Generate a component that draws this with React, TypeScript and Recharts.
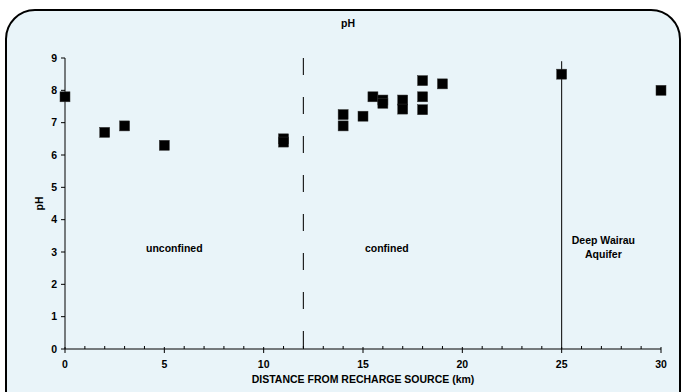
import React from 'react';
import { ScatterChart, Scatter, XAxis, YAxis, ReferenceLine, ReferenceDot, Label } from 'recharts';

const distances = [0, 2, 3, 5, 11, 11, 14, 14, 15, 15.5, 16, 16, 17, 17, 18, 18, 18, 19, 25, 30];
const phValues = [7.8, 6.7, 6.9, 6.3, 6.5, 6.4, 7.25, 6.9, 7.2, 7.8, 7.7, 7.6, 7.7, 7.42, 8.3, 7.8, 7.4, 8.2, 8.5, 8.0];
const xTicks = Array.from({ length: 31 }, (_, i) => i);
const yTicks = [0, 1, 2, 3, 4, 5, 6, 7, 8, 9];
const zoneLabels = [
  { x: 5.5, y: 3.1, lines: ['unconfined'] },
  { x: 16.2, y: 3.1, lines: ['confined'] },
  { x: 27.1, y: 3.15, lines: ['Deep Wairau', 'Aquifer'] },
];

const data = distances.map((d, i) => ({ x: d, y: phValues[i] }));

const FONT = '"Liberation Sans", Arial, sans-serif';
const FS = 10.5;

const Square = (props: any) => {
  const { cx, cy } = props;
  if (cx == null || cy == null) return null;
  return <rect x={cx - 5} y={cy - 5} width={10} height={10} fill="#000" stroke="#333" strokeWidth={0.5} />;
};

const XTick = (props: any) => {
  const { x, y, payload } = props;
  const v = payload.value;
  const major = v % 5 === 0;
  return (
    <g>
      {major ? (
        <line x1={x} x2={x} y1={y - 2} y2={y + 4} stroke="#000" strokeWidth={1} />
      ) : (
        <line x1={x} x2={x} y1={y - 3} y2={y} stroke="#000" strokeWidth={1} />
      )}
      {major && (
        <text x={x} y={y + 19} textAnchor="middle" fontFamily={FONT} fontWeight="bold" fontSize={FS} fill="#000">
          {v}
        </text>
      )}
    </g>
  );
};

const ZoneLabel = (lines: string[]) => (props: any) => {
  const { viewBox } = props;
  const cx = viewBox.x + (viewBox.width || 0) / 2;
  const cy = viewBox.y + (viewBox.height || 0) / 2;
  return (
    <text x={cx} y={cy} textAnchor="middle" fontFamily={FONT} fontWeight="bold" fontSize={FS} fill="#000">
      {lines.map((l, i) => (
        <tspan key={i} x={cx} dy={i === 0 ? 3.5 - (lines.length - 1) * 6.5 : 13.5}>
          {l}
        </tspan>
      ))}
    </text>
  );
};

export default function App() {
  return (
    <div style={{ position: 'absolute', left: 0, top: 0, width: 682, height: 392, overflow: 'hidden', background: '#fff' }}>
      <div
        style={{
          position: 'absolute',
          left: 5,
          top: 9,
          width: 672,
          height: 420,
          border: '2px solid #000',
          borderRadius: 30,
          background: '#E9F4F9',
        }}
      />
      <div
        style={{
          position: 'absolute',
          left: 298,
          top: 17,
          width: 100,
          textAlign: 'center',
          fontFamily: FONT,
          fontWeight: 'bold',
          fontSize: FS,
        }}
      >
        pH
      </div>
      <div style={{ position: 'absolute', left: 0, top: 0 }}>
        <ScatterChart width={682} height={392} margin={{ top: 58, right: 21, bottom: 0, left: 0 }}>
          <XAxis
            type="number"
            dataKey="x"
            domain={[0, 30]}
            ticks={xTicks}
            interval={0}
            tickSize={0}
            tickMargin={0}
            tickLine={false}
            tick={<XTick />}
            height={43}
            stroke="#000"
            axisLine={{ stroke: '#000', strokeWidth: 1 }}
          >
            <Label
              value="DISTANCE FROM RECHARGE SOURCE (km)"
              position="insideBottom"
              offset={9}
              style={{ fontFamily: FONT, fontWeight: 'bold', fontSize: FS, fill: '#000' }}
            />
          </XAxis>
          <YAxis
            type="number"
            dataKey="y"
            domain={[0, 9]}
            ticks={yTicks}
            interval={0}
            width={65}
            tickSize={4}
            tickMargin={4}
            stroke="#000"
            tick={{ fontFamily: FONT, fontWeight: 'bold', fontSize: FS, fill: '#000' }}
          >
            <Label
              value="pH"
              angle={-90}
              position="insideLeft"
              offset={39}
              style={{ fontFamily: FONT, fontWeight: 'bold', fontSize: FS, fill: '#000', textAnchor: 'middle' }}
            />
          </YAxis>
          <ReferenceLine
            segment={[{ x: 12, y: 9 }, { x: 12, y: 0 }]}
            stroke="#222"
            strokeWidth={1.2}
            strokeDasharray="17 22"
          />
          <ReferenceLine segment={[{ x: 25, y: 0 }, { x: 25, y: 8.9 }]} stroke="#000" strokeWidth={1} />
          {zoneLabels.map((z, i) => (
            <ReferenceDot key={i} x={z.x} y={z.y} r={0} stroke="none" fill="none" label={ZoneLabel(z.lines)} />
          ))}
          <Scatter data={data} shape={<Square />} isAnimationActive={false} />
        </ScatterChart>
      </div>
    </div>
  );
}
